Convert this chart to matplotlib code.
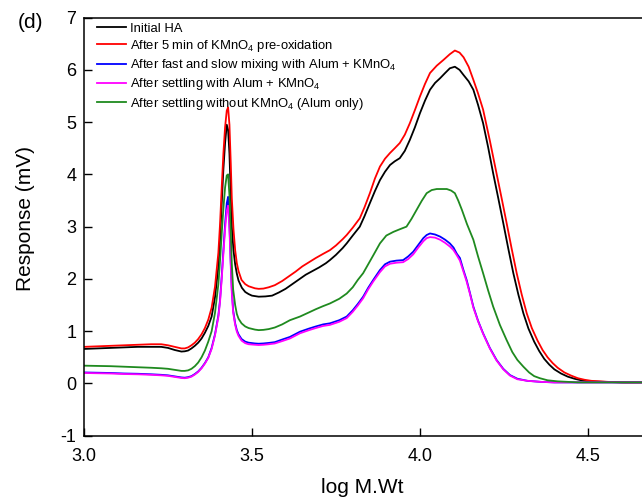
import matplotlib
matplotlib.use("Agg")
import matplotlib.pyplot as plt

plt.rcParams['font.family'] = ['Liberation Sans', 'DejaVu Sans']
plt.rcParams['mathtext.fontset'] = 'custom'
plt.rcParams['mathtext.rm'] = 'Liberation Sans'
plt.rcParams['mathtext.default'] = 'regular'
plt.rcParams['axes.unicode_minus'] = False

# Initial HA (black)
x_ha = [3.00, 3.04, 3.08, 3.12, 3.16, 3.20, 3.23, 3.25, 3.27, 3.29,
        3.30, 3.31, 3.32, 3.33, 3.34, 3.35, 3.36, 3.37, 3.38, 3.39,
        3.40, 3.405, 3.41, 3.415, 3.42, 3.425, 3.429, 3.433, 3.437, 3.44,
        3.445, 3.45, 3.455, 3.46, 3.47, 3.48, 3.49, 3.50, 3.52, 3.54,
        3.56, 3.58, 3.60, 3.62, 3.64, 3.66, 3.68, 3.70, 3.72, 3.732,
        3.75, 3.77, 3.782, 3.80, 3.821, 3.835, 3.851, 3.866, 3.881, 3.896,
        3.911, 3.925, 3.94, 3.955, 3.97, 3.985, 4.00, 4.015, 4.03, 4.045,
        4.06, 4.075, 4.089, 4.104, 4.118, 4.13, 4.145, 4.159, 4.173, 4.188,
        4.203, 4.218, 4.233, 4.248, 4.263, 4.278, 4.293, 4.308, 4.323, 4.34,
        4.355, 4.37, 4.385, 4.40, 4.42, 4.44, 4.46, 4.48, 4.50, 4.55,
        4.60, 4.67]
y_ha = [0.66, 0.67, 0.68, 0.69, 0.70, 0.70, 0.70, 0.68, 0.64, 0.61,
        0.615, 0.63, 0.67, 0.72, 0.78, 0.86, 0.97, 1.10, 1.28, 1.65,
        2.23, 2.75, 3.45, 4.10, 4.60, 4.95, 4.85, 4.40, 3.60, 3.00,
        2.55, 2.28, 2.10, 1.97, 1.83, 1.75, 1.71, 1.68, 1.66, 1.665,
        1.68, 1.74, 1.81, 1.90, 1.99, 2.08, 2.15, 2.22, 2.30, 2.36,
        2.46, 2.59, 2.68, 2.83, 3.00, 3.20, 3.45, 3.68, 3.89, 4.05,
        4.18, 4.25, 4.31, 4.45, 4.66, 4.90, 5.17, 5.41, 5.62, 5.75,
        5.84, 5.94, 6.03, 6.06, 6.00, 5.90, 5.78, 5.62, 5.33, 4.98,
        4.52, 4.02, 3.55, 3.07, 2.58, 2.11, 1.70, 1.34, 1.05, 0.80,
        0.62, 0.47, 0.36, 0.27, 0.19, 0.13, 0.09, 0.06, 0.04, 0.03,
        0.02, 0.02]

# After 5 min of KMnO4 pre-oxidation (red)
x_ox = [3.00, 3.04, 3.08, 3.12, 3.16, 3.20, 3.23, 3.25, 3.27, 3.29,
        3.30, 3.31, 3.32, 3.33, 3.34, 3.35, 3.36, 3.37, 3.38, 3.39,
        3.40, 3.405, 3.41, 3.415, 3.42, 3.425, 3.429, 3.433, 3.437, 3.44,
        3.445, 3.45, 3.455, 3.46, 3.469, 3.48, 3.49, 3.509, 3.52, 3.534,
        3.55, 3.568, 3.59, 3.61, 3.63, 3.65, 3.67, 3.69, 3.712, 3.732,
        3.75, 3.77, 3.782, 3.80, 3.821, 3.835, 3.851, 3.866, 3.881, 3.896,
        3.911, 3.925, 3.94, 3.955, 3.97, 3.985, 4.00, 4.015, 4.03, 4.05,
        4.07, 4.089, 4.104, 4.118, 4.13, 4.145, 4.159, 4.173, 4.188, 4.208,
        4.228, 4.243, 4.258, 4.273, 4.288, 4.303, 4.318, 4.333, 4.35, 4.365,
        4.38, 4.395, 4.41, 4.43, 4.45, 4.47, 4.49, 4.51, 4.56, 4.61,
        4.67]
y_ox = [0.70, 0.71, 0.72, 0.73, 0.74, 0.75, 0.75, 0.73, 0.70, 0.67,
        0.67, 0.69, 0.73, 0.78, 0.85, 0.94, 1.06, 1.22, 1.45, 1.85,
        2.50, 3.05, 3.75, 4.40, 4.90, 5.22, 5.28, 4.95, 4.20, 3.55,
        2.95, 2.55, 2.30, 2.15, 1.98, 1.90, 1.86, 1.82, 1.81, 1.815,
        1.84, 1.88, 1.96, 2.05, 2.14, 2.24, 2.32, 2.40, 2.48, 2.55,
        2.64, 2.76, 2.84, 2.98, 3.16, 3.37, 3.64, 3.92, 4.15, 4.30,
        4.41, 4.50, 4.60, 4.76, 4.98, 5.23, 5.49, 5.73, 5.94, 6.08,
        6.19, 6.30, 6.37, 6.33, 6.24, 6.06, 5.81, 5.55, 5.24, 4.65,
        4.02, 3.55, 3.07, 2.58, 2.11, 1.70, 1.34, 1.06, 0.82, 0.64,
        0.50, 0.39, 0.30, 0.21, 0.15, 0.10, 0.07, 0.05, 0.03, 0.02,
        0.02]

# After fast and slow mixing with Alum + KMnO4 (blue)
x_mix = [3.00, 3.04, 3.08, 3.12, 3.16, 3.20, 3.23, 3.25, 3.27, 3.29,
         3.30, 3.31, 3.32, 3.33, 3.34, 3.35, 3.36, 3.37, 3.38, 3.39,
         3.40, 3.405, 3.41, 3.415, 3.42, 3.425, 3.429, 3.433, 3.437, 3.44,
         3.444, 3.45, 3.455, 3.46, 3.469, 3.48, 3.49, 3.509, 3.52, 3.534,
         3.55, 3.568, 3.59, 3.613, 3.643, 3.67, 3.69, 3.712, 3.732, 3.76,
         3.782, 3.80, 3.815, 3.831, 3.846, 3.861, 3.881, 3.896, 3.911, 3.93,
         3.95, 3.965, 3.98, 3.995, 4.01, 4.02, 4.03, 4.045, 4.06, 4.075,
         4.089, 4.10, 4.11, 4.119, 4.129, 4.139, 4.149, 4.159, 4.173, 4.188,
         4.208, 4.228, 4.248, 4.268, 4.29, 4.32, 4.36, 4.40, 4.50, 4.67]
y_mix = [0.21, 0.205, 0.20, 0.19, 0.185, 0.175, 0.165, 0.155, 0.135, 0.115,
         0.11, 0.12, 0.14, 0.18, 0.23, 0.30, 0.39, 0.50, 0.68, 0.94,
         1.30, 1.60, 2.05, 2.55, 3.05, 3.45, 3.57, 3.05, 2.30, 1.80,
         1.40, 1.15, 1.02, 0.94, 0.85, 0.80, 0.78, 0.765, 0.76, 0.765,
         0.775, 0.79, 0.84, 0.89, 0.99, 1.05, 1.09, 1.13, 1.15, 1.21,
         1.28, 1.40, 1.52, 1.66, 1.83, 1.98, 2.17, 2.28, 2.33, 2.35,
         2.36, 2.43, 2.52, 2.65, 2.78, 2.84, 2.87, 2.85, 2.81, 2.75,
         2.68, 2.60, 2.48, 2.40, 2.18, 1.98, 1.73, 1.47, 1.20, 0.96,
         0.68, 0.45, 0.28, 0.16, 0.09, 0.05, 0.03, 0.02, 0.02, 0.02]

# After settling with Alum + KMnO4 (magenta), read at the same positions as blue
x_set = x_mix
y_set = [0.20, 0.195, 0.19, 0.18, 0.175, 0.165, 0.155, 0.145, 0.125, 0.105,
         0.10, 0.11, 0.13, 0.17, 0.22, 0.29, 0.38, 0.49, 0.66, 0.92,
         1.27, 1.56, 2.00, 2.48, 2.95, 3.30, 3.40, 2.95, 2.22, 1.74,
         1.36, 1.12, 0.99, 0.91, 0.82, 0.77, 0.75, 0.74, 0.735, 0.74,
         0.75, 0.765, 0.81, 0.86, 0.96, 1.02, 1.06, 1.10, 1.12, 1.18,
         1.25, 1.37, 1.49, 1.63, 1.80, 1.95, 2.13, 2.24, 2.29, 2.31,
         2.32, 2.38, 2.47, 2.60, 2.72, 2.78, 2.80, 2.79, 2.75, 2.69,
         2.62, 2.55, 2.45, 2.35, 2.15, 1.95, 1.71, 1.45, 1.19, 0.95,
         0.67, 0.44, 0.27, 0.15, 0.08, 0.05, 0.03, 0.02, 0.02, 0.02]

# After settling without KMnO4, Alum only (green)
x_al = [3.00, 3.04, 3.08, 3.12, 3.16, 3.20, 3.23, 3.25, 3.27, 3.29,
        3.30, 3.31, 3.32, 3.33, 3.34, 3.35, 3.36, 3.37, 3.38, 3.39,
        3.40, 3.405, 3.41, 3.415, 3.42, 3.425, 3.429, 3.433, 3.437, 3.44,
        3.444, 3.45, 3.455, 3.46, 3.469, 3.48, 3.49, 3.509, 3.52, 3.534,
        3.55, 3.568, 3.59, 3.613, 3.643, 3.67, 3.69, 3.712, 3.732, 3.76,
        3.782, 3.80, 3.815, 3.831, 3.846, 3.861, 3.881, 3.90, 3.921, 3.94,
        3.96, 3.975, 3.99, 4.005, 4.02, 4.035, 4.05, 4.065, 4.08, 4.093,
        4.104, 4.114, 4.125, 4.14, 4.159, 4.173, 4.188, 4.203, 4.218, 4.238,
        4.258, 4.275, 4.29, 4.308, 4.325, 4.34, 4.357, 4.38, 4.41, 4.47,
        4.55, 4.67]
y_al = [0.34, 0.335, 0.33, 0.32, 0.31, 0.30, 0.29, 0.28, 0.26, 0.24,
        0.24, 0.25, 0.28, 0.33, 0.40, 0.50, 0.63, 0.80, 1.00, 1.35,
        1.90, 2.35, 2.87, 3.35, 3.75, 3.98, 4.00, 3.60, 2.90, 2.30,
        1.80, 1.50, 1.33, 1.24, 1.15, 1.09, 1.06, 1.03, 1.02, 1.025,
        1.04, 1.07, 1.13, 1.21, 1.28, 1.36, 1.42, 1.48, 1.53, 1.62,
        1.72, 1.84, 1.98, 2.11, 2.28, 2.45, 2.68, 2.83, 2.90, 2.95,
        3.00, 3.15, 3.32, 3.49, 3.64, 3.70, 3.72, 3.72, 3.72, 3.69,
        3.64, 3.50, 3.32, 3.05, 2.75, 2.43, 2.11, 1.78, 1.47, 1.12,
        0.83, 0.60, 0.45, 0.32, 0.21, 0.14, 0.10, 0.06, 0.04, 0.02,
        0.02, 0.02]

series = [
    (x_ha, y_ha, '#000000', 'Initial HA'),
    (x_ox, y_ox, '#ff0000', r'After 5 min of KMnO$_4$ pre-oxidation'),
    (x_mix, y_mix, '#0000ff', r'After fast and slow mixing with Alum + KMnO$_4$'),
    (x_set, y_set, '#ff00ff', r'After settling with Alum + KMnO$_4$'),
    (x_al, y_al, '#1f8a1f', r'After settling without KMnO$_4$ (Alum only)'),
]

fig = plt.figure(figsize=(6.42, 5.00), dpi=100)
ax = fig.add_axes([0.1308, 0.1286, 0.8692, 0.8362])

for xs, ys, c, lab in series:
    ax.plot(xs, ys, color=c, lw=1.3, label=lab, solid_joinstyle='round')

ax.set_xlim(3.0, 4.661)
ax.set_ylim(-1, 7)
ax.set_xticks([3.0, 3.5, 4.0, 4.5])
ax.set_xticklabels(['3.0', '3.5', '4.0', '4.5'])
ax.set_yticks(range(-1, 8))
ax.tick_params(direction='in', length=6, width=1.0, labelsize=13)
ax.tick_params(axis='x', pad=8.5)
ax.tick_params(axis='y', pad=5.5)
ax.spines['right'].set_visible(False)
for s in ['left', 'bottom', 'top']:
    ax.spines[s].set_linewidth(1.1)

ax.set_xlabel('log M.Wt', fontsize=15)
ax.set_ylabel('Response (mV)', fontsize=15)
ax.xaxis.set_label_coords(0.498, -0.101)
ax.xaxis.label.set_va('top')
# label anchor is its right-hand side once rotated
ax.yaxis.set_label_coords(-0.088, 0.52)

ax.legend(loc='upper left', bbox_to_anchor=(0.014, 1.001), frameon=False,
          fontsize=9.4, handlelength=2.2, handletextpad=0.3,
          labelspacing=0.25, borderaxespad=0.0, borderpad=0.4)

fig.text(0.028, 0.955, '(d)', fontsize=15, ha='left', va='center')

fig.savefig('out.png', dpi=100)
